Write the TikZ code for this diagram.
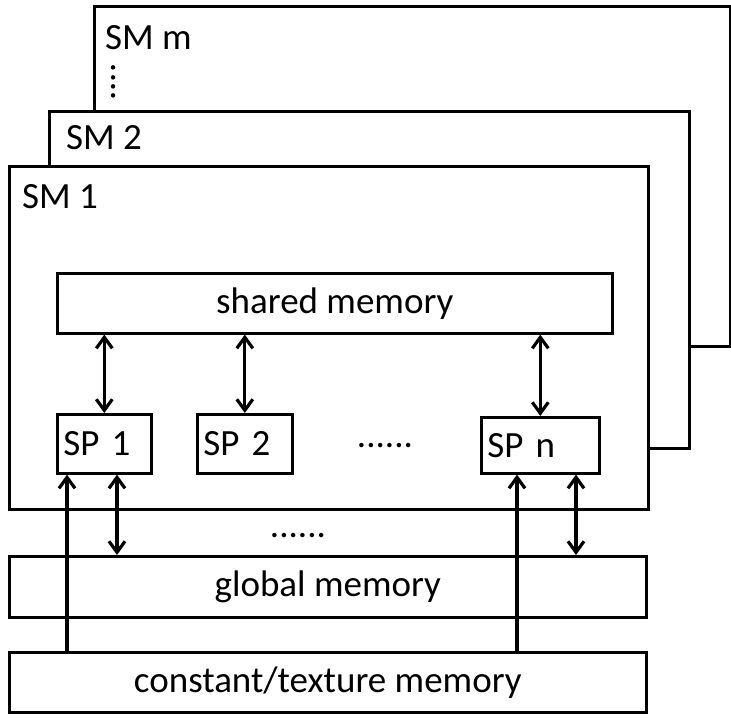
\documentclass[tikz,border=0pt]{standalone}
\usepackage{fontspec}
\setmainfont{Carlito}
\usetikzlibrary{arrows.meta, positioning, calc}

\tikzset{
  box/.style={draw, line width=2.6pt, fill=white, inner sep=0pt},
  sp/.style={box, minimum height=59pt, inner xsep=6pt, align=left, anchor=north west},
  lbl/.style={inner sep=0pt, anchor=west},
  both/.style={line width=3.2pt, {Straight Barb[length=11pt,width=16pt]}-{Straight Barb[length=11pt,width=16pt]}},
  upward/.style={line width=3.2pt, -{Straight Barb[length=11pt,width=16pt]}}
}

\begin{document}
\begin{tikzpicture}[x=1pt, y=-1pt, every node/.style={font=\fontsize{37}{42}\selectfont}]
  \useasboundingbox (0,0) rectangle (731,727);
  % stacked multiprocessors
  \node[box, minimum width=636pt, minimum height=340pt, anchor=north west] (smm) at (93,5) {};
  \node[box, minimum width=640pt, minimum height=337pt, anchor=north west] (sm2) at (48,110) {};
  \node[box, minimum width=639pt, minimum height=343pt, anchor=north west] (sm1) at (8,165) {};
  \node[lbl] (smmname) at ([xshift=12pt,yshift=-33pt]smm.north west) {SM m};
  \node[lbl, rotate=90, anchor=base] (smmdots) at (115,82) {....};
  \node[lbl] (sm2name) at ([xshift=18pt,yshift=-28pt]sm2.north west) {SM 2};
  \node[lbl] (sm1name) at ([xshift=14pt,yshift=-32pt]sm1.north west) {SM 1};

  \node[box, minimum width=555pt, minimum height=60pt, anchor=north west] (shared) at (56,272) {shared memory};
  \node[sp, text width=82pt] (sp1) at (56,413) {SP 1};
  \node[sp, text width=83pt] (sp2) at (196,413) {SP 2};
  \node[sp, text width=106pt, minimum height=56pt] (spn) at (480,416) {SP n};
  \node[inner sep=0pt, anchor=base] (spdots) at (385,447) {......};
  \node[inner sep=0pt, anchor=base] (smdots) at (298,537) {......};

  \node[box, minimum width=637pt, minimum height=61pt, anchor=north west] (global) at (8,555) {global memory};
  \node[box, minimum width=637pt, minimum height=60pt, anchor=north west] (const) at (8,651) {constant/texture memory};

  % links to shared memory
  \draw[both] (sp1.north) -- (sp1.north |- shared.south);
  \draw[both] (sp2.north) -- (sp2.north |- shared.south);
  \draw[both] (spn.north) -- (spn.north |- shared.south);

  % links to global and constant memory
  \coordinate (c1) at ([xshift=11pt]sp1.south west);
  \coordinate (g1) at ([xshift=61pt]sp1.south west);
  \coordinate (cn) at ([xshift=37pt]spn.south west);
  \coordinate (gn) at ([xshift=96pt]spn.south west);
  \draw[upward] (c1 |- const.north) -- (c1);
  \draw[both] (g1) -- (g1 |- global.north);
  \draw[upward] (cn |- const.north) -- (cn);
  \draw[both] (gn) -- (gn |- global.north);
\end{tikzpicture}
\end{document}
